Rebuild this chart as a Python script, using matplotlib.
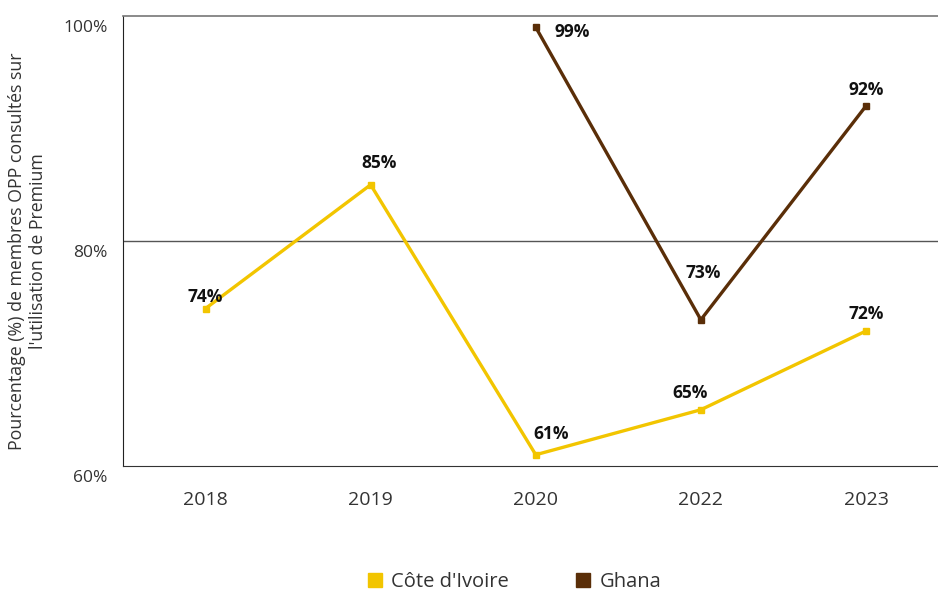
import matplotlib.pyplot as plt
import matplotlib.transforms as mtransforms
import numpy as np

plt.rcParams['font.family'] = ['Open Sans', 'DejaVu Sans']

years = ['2018', '2019', '2020', '2022', '2023']
cote_ivoire = [74, 85, 61, 65, 72]
ghana = [np.nan, np.nan, 99, 73, 92]

yellow = '#F2C500'
brown = '#5A2E08'

# label offsets in points (dx, dy) per point
ci_offsets = [(0, 1.5), (6, 9), (11, 8.5), (-8, 5.5), (0, 5.5)]
gh_offsets = [(26, -10), (2, 27), (0, 5)]

fig = plt.figure(figsize=(9.38, 5.92), dpi=100)
ax = fig.add_axes([123 / 938, 126 / 592, 825.5 / 938, 450 / 592])

x = np.arange(len(years))
ax.plot(x, cote_ivoire, color=yellow, lw=2.4, marker='s', ms=5, zorder=3)
ax.plot(x, ghana, color=brown, lw=2.4, marker='s', ms=5, zorder=3)

for xi, v, off in zip(x, cote_ivoire, ci_offsets):
    ax.annotate(f'{v}%', (xi, v), xytext=off, textcoords='offset points',
                ha='center', va='bottom', fontsize=12.5, fontweight='bold', color='#111111')
gh_x = [i for i, v in enumerate(ghana) if not np.isnan(v)]
for xi, off in zip(gh_x, gh_offsets):
    v = ghana[xi]
    ax.annotate(f'{v:.0f}%', (xi, v), xytext=off, textcoords='offset points',
                ha='center', va='bottom', fontsize=12.5, fontweight='bold', color='#111111')

ax.set_xlim(-0.5, len(years) - 0.5)
ax.set_ylim(60, 100)
ax.set_yticks([60, 80, 100])
ax.set_yticklabels(['60%', '80%', '100%'])
ax.set_xticks(x)
ax.set_xticklabels(years)
ax.tick_params(axis='both', length=0, colors='#333333')
ax.tick_params(axis='x', pad=18, labelsize=14)
ax.tick_params(axis='y', pad=11, labelsize=12.5)
shift_down = mtransforms.ScaledTranslation(0, -3 / 72, fig.dpi_scale_trans)
for lbl in ax.get_yticklabels():
    lbl.set_verticalalignment('top')
    lbl.set_transform(lbl.get_transform() + shift_down)

ax.axhline(80, color='#555555', lw=1, zorder=1)
ax.spines['top'].set_color('#777777')
ax.spines['top'].set_linewidth(1.2)
ax.spines['right'].set_visible(False)
ax.spines['left'].set_color('#222222')
ax.spines['bottom'].set_color('#333333')

ax.set_ylabel("Pourcentage (%) de membres OPP consultés sur\nl'utilisation de Premium",
              fontsize=12.8, color='#333333', linespacing=1.25)
ax.yaxis.set_label_coords(-0.092, 0.478)

handles = [plt.Line2D([], [], color=yellow, marker='s', ls='', ms=10),
           plt.Line2D([], [], color=brown, marker='s', ls='', ms=10)]
fig.legend(handles, ["Côte d'Ivoire", 'Ghana'], loc='center', bbox_to_anchor=(0.547, 0.017),
           ncol=2, frameon=False, fontsize=14.5, handletextpad=0.3, columnspacing=3.2,
           labelcolor='#333333', handlelength=1.0)

fig.savefig('out.png', dpi=100)
